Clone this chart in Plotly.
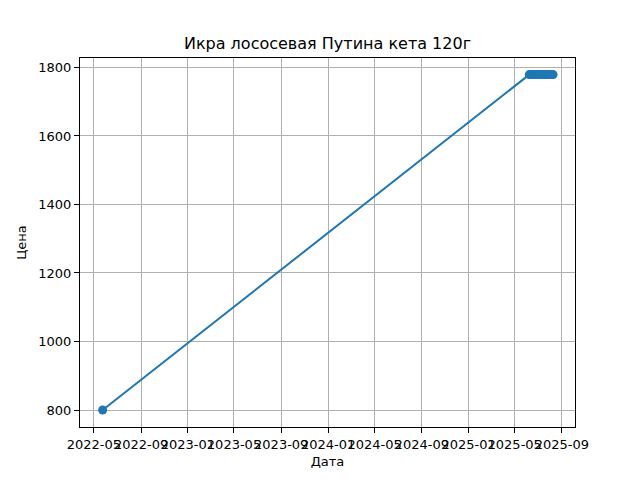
import plotly.graph_objects as go

dates = ["2022-05-24",
         "2025-06-08", "2025-06-12", "2025-06-16", "2025-06-20", "2025-06-25",
         "2025-06-30", "2025-07-05", "2025-07-10", "2025-07-15", "2025-07-20",
         "2025-07-25", "2025-07-30", "2025-08-04", "2025-08-09"]
prices = [800] + [1779] * 14

title = "Икра лососевая Путина кета 120г"
xlabel = "Дата"
ylabel = "Цена"

font = "DejaVu Sans"
fig = go.Figure(go.Scatter(
    x=dates, y=prices, mode="lines+markers",
    line=dict(color="#1f77b4", width=2),
    marker=dict(color="#1f77b4", size=9),
))

axis_common = dict(
    showline=True, linecolor="black", linewidth=1, mirror=True,
    ticks="outside", ticklen=5, tickcolor="black", tickwidth=1,
    showgrid=True, gridcolor="#b0b0b0", gridwidth=1, zeroline=False,
    tickfont=dict(family=font, size=13, color="black"),
)

fig.update_layout(
    width=640, height=480,
    margin=dict(l=72, r=73, t=50, b=61),
    paper_bgcolor="white", plot_bgcolor="white",
    showlegend=False,
    title=dict(text=title, x=0.5, xanchor="center", xref="paper",
               y=1 - 35 / 480, yref="container", yanchor="middle",
               font=dict(family=font, size=16, color="black")),
    xaxis=dict(axis_common, type="date", range=["2022-03-26", "2025-10-05"],
               tick0="2022-01-01", dtick="M4", tickformat="%Y-%m", tickangle=0,
               title=dict(text=xlabel, standoff=6,
                          font=dict(family=font, size=13, color="black"))),
    yaxis=dict(axis_common, range=[750.4, 1827.5], tick0=0, dtick=200,
               title=dict(text=ylabel, standoff=8,
                          font=dict(family=font, size=13, color="black"))),
)

fig.write_html("out.html")
